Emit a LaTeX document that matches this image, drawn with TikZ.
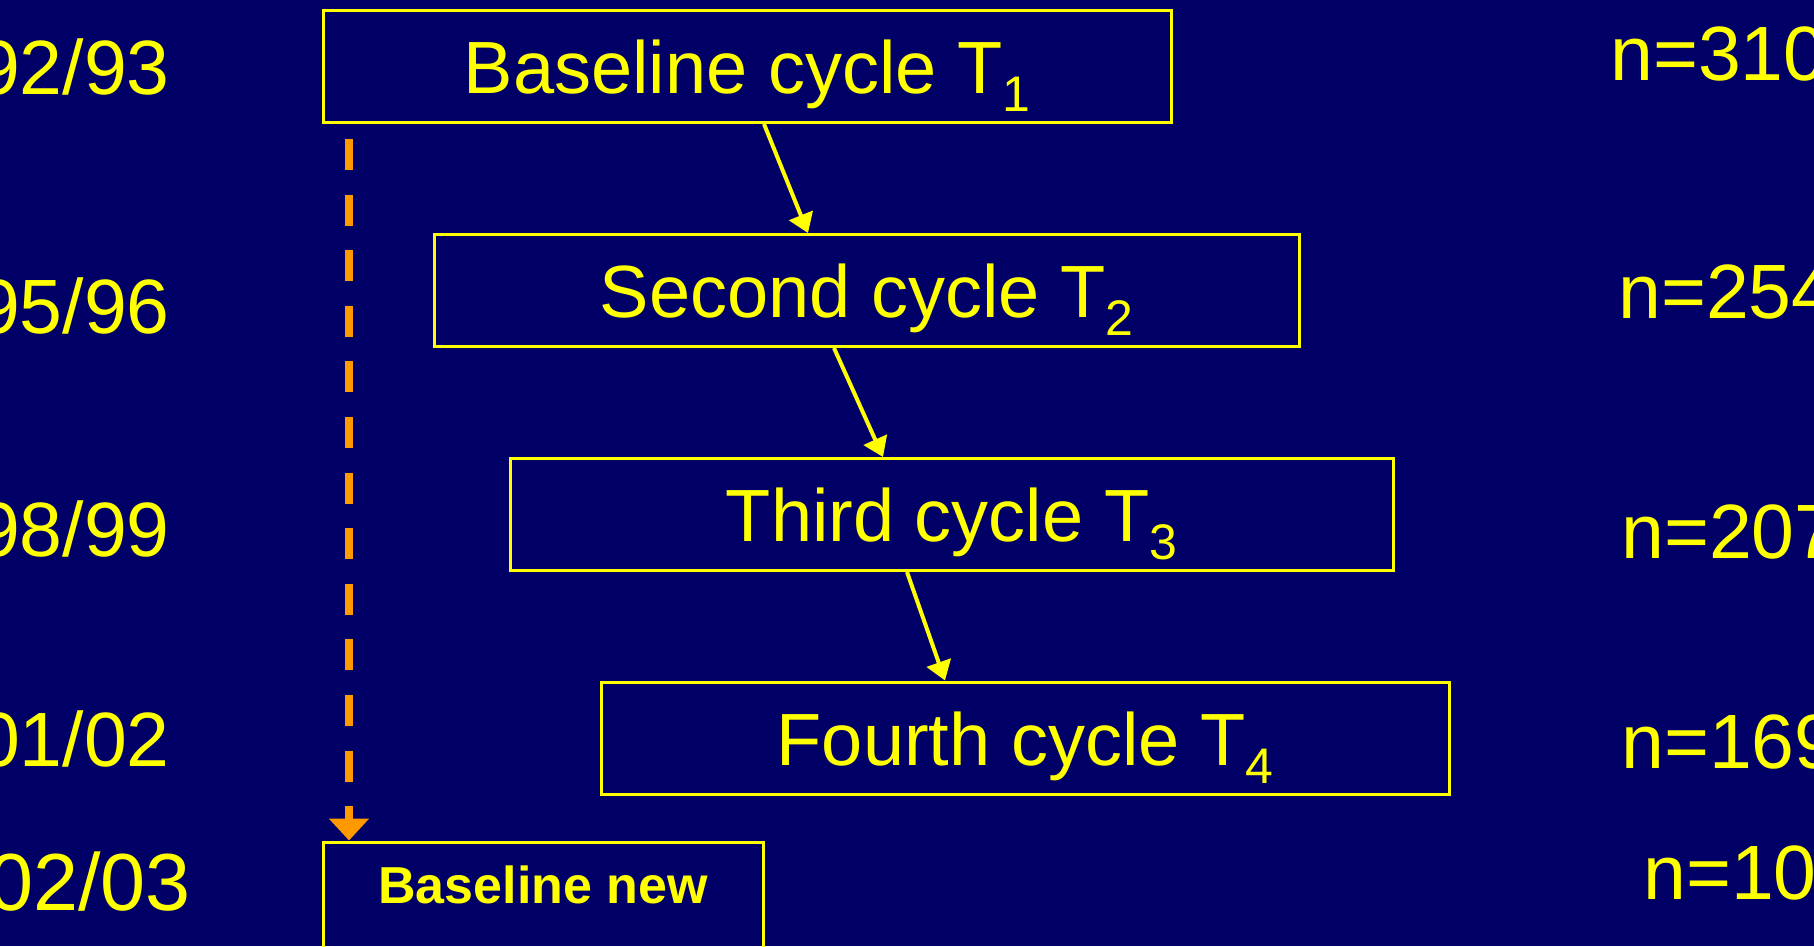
\documentclass[tikz,border=0pt]{standalone}
\usepackage{fontspec}
\setmainfont{Liberation Sans}
\usetikzlibrary{arrows.meta}
\definecolor{navy}{RGB}{0,0,102}
\definecolor{yel}{RGB}{255,255,0}
\definecolor{orng}{RGB}{255,153,0}
\newcommand\subsc[1]{\raisebox{-18pt}{\fontsize{50}{50}\selectfont #1}}
\begin{document}
\begin{tikzpicture}[x=1pt,y=-1pt,
  cyclebox/.style={draw=yel, line width=3pt, text=yel, inner sep=0pt, minimum height=112pt,
    text height=54pt, text depth=0pt, font=\fontsize{74}{80}\selectfont},
  yearlbl/.style={text=yel, inner sep=0pt, anchor=base east, font=\fontsize{77}{80}\selectfont},
  nlbl/.style={text=yel, inner sep=0pt, anchor=base west, font=\fontsize{77}{80}\selectfont},
  flow/.style={draw=yel, line width=4pt, -{Triangle[length=19pt,width=25pt]}},
  newflow/.style={draw=orng, line width=8pt, dash pattern=on 31pt off 24.6pt,
    -{Triangle[length=22pt,width=39pt]}}]
\fill[navy] (0,0) rectangle (1814,946);
\useasboundingbox (0,0) rectangle (1814,946);
\clip (0,0) rectangle (1814,946);

\node[cyclebox, minimum width=848pt] (b1) at (747,66.5) {Baseline cycle T\subsc{1}};
\node[cyclebox, minimum width=865pt] (b2) at (866.5,290.5) {Second cycle T\subsc{2}};
\node[cyclebox, minimum width=883pt] (b3) at (951.5,514.5) {Third cycle T\subsc{3}};
\node[cyclebox, minimum width=848pt] (b4) at (1025,738) {Fourth cycle T\subsc{4}};
\node[cyclebox, minimum width=440pt, minimum height=113pt, text height=37pt, text depth=27pt,
  font=\bfseries\fontsize{52}{56}\selectfont] (b5) at (543,898.5) {Baseline new};

\draw[flow] ([xshift=17pt]b1.south) -- ([xshift=-58.5pt]b2.north);
\draw[flow] ([xshift=-32.5pt]b2.south) -- ([xshift=-68.5pt]b3.north);
\draw[flow] ([xshift=-44.5pt]b3.south) -- ([xshift=-80pt]b4.north);
\coordinate (dstart) at (349,139);
\draw[newflow] (dstart) -- ([xshift=-194pt]b5.north);

\node[yearlbl] (y1) at (170,94) {92/93};
\node[yearlbl] (y2) at (170,333) {95/96};
\node[yearlbl] (y3) at (170,556) {98/99};
\node[yearlbl] (y4) at (170,766) {01/02};
\node[yearlbl, font=\fontsize{81}{84}\selectfont] (y5) at (191,910) {002/03};

\node[nlbl] (n1) at (1610,80) {n=310};
\node[nlbl] (n2) at (1618,318) {n=254};
\node[nlbl] (n3) at (1621,558) {n=207};
\node[nlbl] (n4) at (1621,768) {n=169};
\node[nlbl] (n5) at (1643,899) {n=10};
\end{tikzpicture}
\end{document}
